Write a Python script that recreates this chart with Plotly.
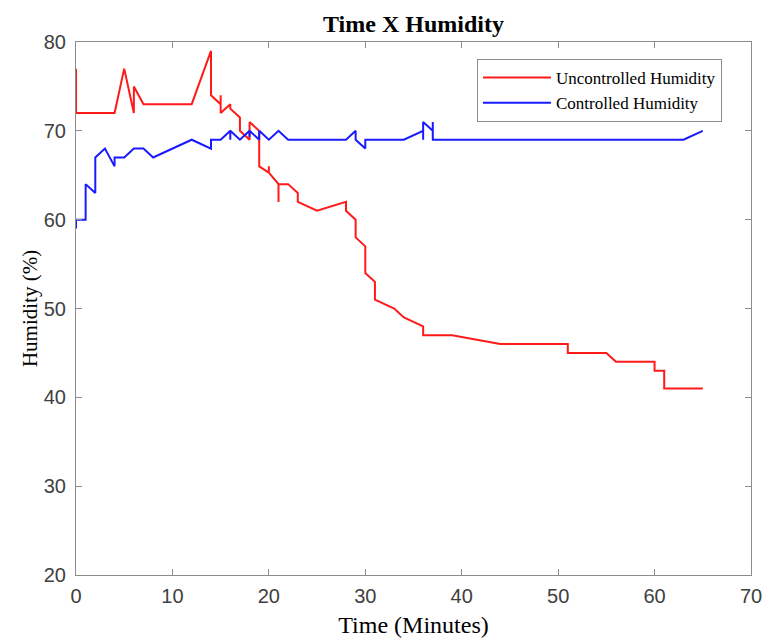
import plotly.graph_objects as go

# Uncontrolled humidity (red)
red_x = [0, 0, 4, 5, 6, 6, 7, 12, 14, 14, 15, 15, 15, 16, 16, 17, 17, 18, 18, 19,
         19, 20, 20, 20, 21, 21, 21, 22, 23, 23, 25, 28, 28, 29, 29, 30, 30, 31, 31, 33,
         34, 36, 36, 39, 44, 51, 51, 55, 56, 60, 60, 61, 61, 65]
red_y = [77, 72, 72, 77, 72, 75, 73, 73, 79, 74, 73, 74, 72, 73, 72.5, 71.5, 70, 69, 71, 70,
         66, 65.3, 66, 65.3, 64, 62, 64, 64, 63, 62, 61, 62, 61, 60, 58, 57, 54, 53, 51, 50,
         49, 48, 47, 47, 46, 46, 45, 45, 44, 44, 43, 43, 41, 41]

# Controlled humidity (blue)
blue_x = [0, 0, 1, 1, 2, 2, 3, 4, 4, 5, 6, 7, 8, 12, 14, 14, 15, 16, 16, 16,
          17, 18, 18, 18, 19, 19, 20, 21, 22, 28, 29, 29, 30, 30, 34, 36, 36, 36, 37, 37,
          37, 63, 65]
blue_y = [59, 60, 60, 64, 63, 67, 68, 66, 67, 67, 68, 68, 67, 69, 68, 69, 69, 70, 69, 70,
          69, 70, 69.3, 70, 69, 70, 69, 70, 69, 69, 70, 69, 68, 69, 69, 70, 69, 71, 70, 71,
          69, 69, 70]

x_ticks = [0, 10, 20, 30, 40, 50, 60, 70]
y_ticks = [20, 30, 40, 50, 60, 70, 80]

SERIF = "Liberation Serif, Times New Roman, serif"
SANS = "Liberation Sans, Arial, sans-serif"

fig = go.Figure()
fig.add_trace(go.Scatter(x=red_x, y=red_y, mode="lines", name="Uncontrolled Humidity",
                         line=dict(color="#ff1a1a", width=2)))
fig.add_trace(go.Scatter(x=blue_x, y=blue_y, mode="lines", name="Controlled Humidity",
                         line=dict(color="#1a1aff", width=2)))

axis_common = dict(
    showgrid=False, zeroline=False, showline=True, linecolor="#8c8c8c", linewidth=1,
    mirror="ticks", ticks="inside", ticklen=6, tickcolor="#8c8c8c", automargin=False,
    tickfont=dict(family=SANS, size=20, color="#404040"),
)

fig.update_layout(
    width=767, height=642,
    margin=dict(l=76, r=16, t=42, b=67),
    paper_bgcolor="white", plot_bgcolor="white",
    title=dict(text="<b>Time X Humidity</b>", x=0.5, xref="paper", xanchor="center",
               y=1 - 24 / 642, yref="container", yanchor="middle", automargin=False,
               font=dict(family=SERIF, size=24, color="black")),
    xaxis=dict(range=[0, 70], tickvals=x_ticks, ticktext=[str(v) for v in x_ticks],
               ticklabelstandoff=3,
               title=dict(text="Time (Minutes)", standoff=10,
                          font=dict(family=SERIF, size=24, color="black")),
               **axis_common),
    yaxis=dict(range=[20, 80], tickvals=y_ticks, ticktext=[str(v) for v in y_ticks],
               ticklabelstandoff=5,
               title=dict(text="Humidity (%)", standoff=0,
                          font=dict(family=SERIF, size=21, color="black")),
               **axis_common),
    legend=dict(x=0.594, y=0.968, xanchor="left", yanchor="top",
                bgcolor="white", bordercolor="#8c8c8c", borderwidth=1,
                font=dict(family=SERIF, size=17, color="black"),
                itemwidth=68, tracegroupgap=0, entrywidth=250),
    showlegend=True,
)

fig.write_html("out.html", config={"displayModeBar": False},
               post_script="document.body.style.margin='0';")
